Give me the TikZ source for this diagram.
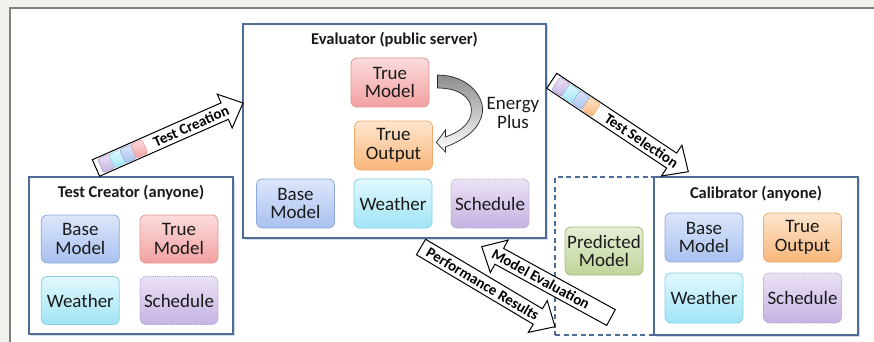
\documentclass[tikz,border=0pt]{standalone}
\usepackage{fontspec}
\setmainfont{Carlito}
\usetikzlibrary{calc,shadows}
\definecolor{bg}{HTML}{F2F2EC}
\definecolor{txt}{HTML}{1A1A1A}
\definecolor{frame}{HTML}{4E6D96}
\definecolor{blT}{HTML}{DCE6FA}\definecolor{blB}{HTML}{A9C1F0}\definecolor{blD}{HTML}{8EAADB}
\definecolor{reT}{HTML}{FCDCDC}\definecolor{reB}{HTML}{F2A0A0}\definecolor{reD}{HTML}{E39595}
\definecolor{orT}{HTML}{FDE6CF}\definecolor{orB}{HTML}{F8B67A}\definecolor{orD}{HTML}{EFAB6C}
\definecolor{cyT}{HTML}{E2F8FD}\definecolor{cyB}{HTML}{A0E4F5}\definecolor{cyD}{HTML}{85D1E8}
\definecolor{puT}{HTML}{EBE2F5}\definecolor{puB}{HTML}{C5B2E2}\definecolor{puD}{HTML}{A796C8}
\definecolor{grT}{HTML}{E6EED5}\definecolor{grB}{HTML}{C0D49A}\definecolor{grD}{HTML}{A3BB7D}
\tikzset{
  abox/.style n args={3}{rounded corners=6pt, draw=#3, top color=#1, bottom color=#2,
    minimum width=78pt, minimum height=49pt, line width=0.8pt, align=center,
    font=\fontsize{19}{18.5}\selectfont, inner sep=1pt, text=txt},
  bluebox/.style={abox={blT}{blB}{blD}},
  redbox/.style={abox={reT}{reB}{reD}},
  orbox/.style={abox={orT}{orB}{orD}},
  cybox/.style={abox={cyT}{cyB}{cyD}},
  pubox/.style={abox={puT}{puB}{puD}, densely dotted},
  grbox/.style={abox={grT}{grB}{grD}},
  cont/.style={draw=frame, line width=1.2pt, fill=white, inner sep=0pt,
    drop shadow={shadow xshift=1.5pt, shadow yshift=-1.5pt, opacity=0.25, fill=frame}},
  title/.style={font=\bfseries\fontsize{16.5}{18}\selectfont, text=txt},
  atext/.style={font=\bfseries\fontsize{15}{16}\selectfont, transform shape, inner sep=0pt, text=black},
  barrow/.style={draw=black, line width=1pt, fill=white, line join=miter},
}
\newcommand\blockarrow[3]{%
  \path let \p1=($(#2)-(#1)$) in \pgfextra{%
    \pgfmathparse{atan2(\y1,\x1)}\xdef\baang{\pgfmathresult}%
    \pgfmathparse{veclen(\x1,\y1)}\xdef\balen{\pgfmathresult}};
  \begin{scope}[shift={(#1)},rotate=\baang]
    \draw[barrow] (0,-9) -- ({\balen-20},-9) -- ({\balen-20},-18.5) -- (\balen,0)
      -- ({\balen-20},18.5) -- ({\balen-20},9) -- (0,9) -- cycle;
    #3
  \end{scope}}
\newcommand\chips[4]{%
  \foreach \c [count=\i] in {#1,#2,#3,#4} {
    \shade[top color=\c T, bottom color=\c B, draw=\c D, line width=0.5pt, rounded corners=2pt]
      ({5+(\i-1)*12},-7.5) rectangle ++(12.5,15);
  }}
\begin{document}
\begin{tikzpicture}[x=1pt,y=-1pt]
\useasboundingbox (0,0) rectangle (874,342);
\fill[bg] (0,0) rectangle (874,342);
\draw[fill=white, draw=gray, line width=1.5pt] (10,8) rectangle (890,360);

% containers
\node[cont, minimum width=204pt, minimum height=157pt] (tc) at (131,255.5) {};
\node[cont, minimum width=303pt, minimum height=214pt] (ev) at (394.5,131) {};
\node[draw=frame, dash pattern=on 5pt off 3.5pt, line width=1.2pt, minimum width=99pt, minimum height=158pt, inner sep=0pt] (dash) at (604.5,256) {};
\node[cont, minimum width=204pt, minimum height=158pt] (ca) at (756,256) {};

% titles
\node[title] (tct) at (131,193) {Test Creator (anyone)};
\node[title] (evt) at (394.5,40) {Evaluator (public server)};
\node[title] (cat) at (756,194) {Calibrator (anyone)};

% test creator
\node[bluebox, minimum height=48pt] (tcBase) at (80.3,239) {Base\\Model};
\node[redbox, minimum height=48pt] (tcTrue) at (179,239) {True\\Model};
\node[cybox, minimum height=48pt] (tcWeather) at (80.3,300.5) {Weather};
\node[pubox, minimum height=48pt] (tcSched) at (179,300.5) {Schedule};

% evaluator
\node[redbox] (evTrue) at (390,82.5) {True\\Model};
\node[orbox] (evOut) at (393.5,145.5) {True\\Output};
\node[bluebox] (evBase) at (295.5,203.5) {Base\\Model};
\node[cybox] (evWeather) at (393,203.5) {Weather};
\node[pubox] (evSched) at (490,203.5) {Schedule};
\node[font=\fontsize{19}{18.5}\selectfont, align=center, text=txt] (ep) at (513,113) {Energy\\Plus};

% curved EnergyPlus arrow
\begin{scope}[shift={(evTrue.east)}]
\shade[top color=black!45, bottom color=white, draw=black!85, line width=0.7pt, line join=miter]
  (8,-7.5) .. controls (39,-7.5) and (55,14.5) .. (53,29.5)
  .. controls (51,45.5) and (37,56.5) .. (16,64.5)
  -- (16,69.5) -- (7,60) -- (16,47.5) -- (16,54.5)
  .. controls (33,48.5) and (42,39.5) .. (42,27.5)
  .. controls (42,14.5) and (29,5.5) .. (8,5.5) -- cycle;
\end{scope}

% calibrator
\node[bluebox] (caBase) at (704,237.5) {Base\\Model};
\node[orbox] (caOut) at (802.5,237.5) {True\\Output};
\node[cybox, minimum height=50pt] (caWeather) at (704,298) {Weather};
\node[pubox, minimum height=50pt] (caSched) at (802.5,298) {Schedule};
\node[grbox, minimum height=48pt] (pred) at (604,251) {Predicted\\Model};

% block arrows
\coordinate (tcA) at (96,168);   \coordinate (tcB) at (243,103);
\coordinate (tsA) at (551.7,80.8); \coordinate (tsB) at (688.3,171.7);
\coordinate (prA) at (421,247);  \coordinate (prB) at (555,326.7);
\coordinate (meA) at (611,317.5); \coordinate (meB) at (481.7,246.7);

\blockarrow{tcA}{tcB}{\chips{pu}{cy}{bl}{re}\node[atext] (tcl) at (104,0) {Test Creation};}
\blockarrow{tsA}{tsB}{\chips{pu}{cy}{bl}{or}\node[atext] (tsl) at (108,0) {Test Selection};}
\blockarrow{prA}{prB}{\node[atext] (prl) at (72,0) {Performance Results};}
\blockarrow{meA}{meB}{\node[atext, rotate=180] (mel) at (80,0) {Model Evaluation};}
\end{tikzpicture}
\end{document}
